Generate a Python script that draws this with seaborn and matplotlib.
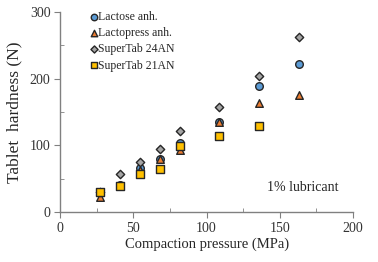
import matplotlib
matplotlib.use("Agg")
import matplotlib.pyplot as plt
import seaborn as sns
import pandas as pd
from matplotlib.ticker import MultipleLocator

pressure = [27.2, 40.8, 54.4, 68.0, 81.6, 108.8, 136.0, 163.2]
lactose_anh = [29, 40.5, 65.5, 79, 104, 135.5, 189, 222.5]
lactopress_anh = [23, 40, 63, 79, 93, 135.5, 163, 176]
supertab_24an = [30, 56.5, 74.5, 94.5, 122, 157, 204.5, 262]
supertab_21an = [29.5, 39, 56.5, 65, 99.5, 114.5, 129, None]

series_names = ["Lactose anh.", "Lactopress anh.", "SuperTab 24AN", "SuperTab 21AN"]
series_vals = [lactose_anh, lactopress_anh, supertab_24an, supertab_21an]

rows = []
for name, vals in zip(series_names, series_vals):
    for x, y in zip(pressure, vals):
        if y is not None:
            rows.append({"pressure": x, "hardness": y, "series": name})
df = pd.DataFrame(rows)

sns.set_style("ticks")
plt.rcParams["font.family"] = ["Liberation Serif", "DejaVu Serif"]

fig = plt.figure(figsize=(3.78, 2.62), dpi=100)
ax = fig.add_axes([0.159, 0.191, 0.775, 0.763])

palette = {"Lactose anh.": "#5B9BD5", "Lactopress anh.": "#ED7D31",
           "SuperTab 24AN": "#A5A5A5", "SuperTab 21AN": "#FFC000"}
markers = {"Lactose anh.": "o", "Lactopress anh.": "^",
           "SuperTab 24AN": "D", "SuperTab 21AN": "s"}
sizes = {"Lactose anh.": 30, "Lactopress anh.": 30, "SuperTab 24AN": 18, "SuperTab 21AN": 34}

for name in series_names:
    sub = df[df.series == name]
    sns.scatterplot(data=sub, x="pressure", y="hardness", ax=ax, color=palette[name],
                    marker=markers[name], s=sizes[name], edgecolor="#262626",
                    linewidth=1.0, label=name, zorder=3)

ax.set_xlim(0, 200)
ax.set_ylim(0, 300)
ax.xaxis.set_major_locator(MultipleLocator(50))
ax.xaxis.set_minor_locator(MultipleLocator(25))
ax.yaxis.set_major_locator(MultipleLocator(100))
ax.yaxis.set_minor_locator(MultipleLocator(50))
ax.tick_params(which="major", direction="out", length=4, color="#808080", labelsize=10,
               pad=3, labelcolor="#333333")
ax.tick_params(which="minor", direction="in", length=3, color="#808080")
for s in ["top", "right"]:
    ax.spines[s].set_visible(False)
for s in ["left", "bottom"]:
    ax.spines[s].set_color("#808080")
    ax.spines[s].set_linewidth(1.0)

ax.set_xlabel("Compaction pressure (MPa)", fontsize=10.5, labelpad=2)
ax.set_ylabel("Tablet  hardness (N)", fontsize=12.5, labelpad=5)

ax.text(0.95, 0.09, "1% lubricant", transform=ax.transAxes, ha="right", va="bottom", fontsize=10)

leg = ax.legend(loc="upper left", frameon=False, fontsize=8.5, handletextpad=-0.1,
                borderaxespad=0.2, labelspacing=0.35, handlelength=1.0, markerscale=0.85,
                bbox_to_anchor=(0.07, 1.04))

fig.savefig("out.png", dpi=100)
